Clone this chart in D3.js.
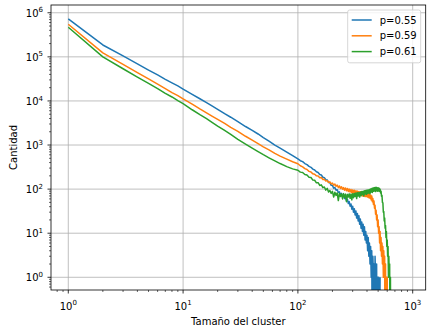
<!DOCTYPE html>
<html><head><meta charset="utf-8">
<script src="https://cdn.jsdelivr.net/npm/d3@7"></script>
<style>body{margin:0;background:#fff}svg{display:block}</style>
</head><body><svg id="c" width="428" height="325"></svg>
<script>
// ---------------- data ----------------
const seriesLabels = ["p=0.55", "p=0.59", "p=0.61"];
const seriesColors = ["#1f77b4", "#ff7f0e", "#2ca02c"];

const sizesHead = [1,2,3,4,5,6,7,8,9,10,12,14,16,18,20,23,26,30,35,40,45,50,56,63,70,80,90];
const countsHead055 = [724000,186000,105000,69200,50100,38900,30900,25700,21900,18600,14100,11200,9120,7590,6460,5130,4270,3390,2630,2140,1780,1480,1230,1000,851,692,575];
const countsHead059 = [550000,123000,67600,43700,31600,24000,19100,15500,13200,11200,8510,6610,5370,4470,3800,3090,2510,2040,1580,1290,1070,912,776,646,562,479,417];
const countsHead061 = [468000,100000,53700,34700,25100,19100,14800,12300,10200,8710,6310,4900,3980,3240,2690,2140,1740,1350,1050,851,708,603,513,437,380,324,288];

const sizesTail = [100,105,110,115,120,125,130,135,140,145,150,155,160,165,170,175,180,185,190,195,
  200,205,210,215,220,225,230,235,240,245,250,255,260,265,270,275,280,285,290,295,
  300,305,310,315,320,325,330,335,340,345,350,355,360,365,370,375,380,385,390,395,
  400,405,410,415,420,425,430,435,440,445,450,455,460,465,470,475,480,485,490,495,
  500,505,510,515,520,525,530,535,540,545,550,555,560,565,570,575,580,585,590,595,
  600,605,610,615,620,625,630,635,640,645];
const countsTail055 = [485,441,420,380,359,327,312,284,272,247,
  238,214,209,186,182,163,161,143,140,122,
  121,105,109,94,97,84,87,74,80,68,
  73,61,67,54,59,47,52,41,46,35,
  41,30,36,26,32,22,28,19,25,16,
  21,13,18,11,16,9,14,7,11,6,
  9,4,8,3,6,2,5,1,4,0,
  3,1,2,0,3,1,0,2,0,1,
  0,1,0,0,1];
const countsTail059 = [376,338,320,291,279,253,244,222,217,200,
  199,181,183,165,167,152,156,141,146,131,
  137,123,130,116,123,109,118,104,113,99,
  108,95,106,92,103,88,100,86,98,83,
  96,81,94,79,92,77,90,75,88,73,
  87,72,86,70,84,69,83,68,82,68,
  81,66,80,64,78,62,74,57,70,52,
  61,45,54,37,43,27,33,20,26,14,
  20,10,14,6,11,4,8,3,6,2,
  5,1,4,1,3,0,2,0,1,0,
  1,0,0];
const countsTail061 = [268,243,238,214,208,186,183,160,159,139,
  140,121,125,108,112,95,104,86,93,80,
  89,66,85,72,82,55,80,68,78,60,
  79,65,77,52,76,66,78,62,77,57,
  79,64,80,68,82,61,83,70,84,66,
  86,71,88,75,89,70,92,78,93,76,
  95,80,96,82,98,79,100,86,103,84,
  106,89,108,91,109,88,110,92,108,90,
  107,91,105,89,100,82,90,69,72,50,
  49,30,31,19,22,13,15,8,11,5,
  7,3,5,1,3,1,2,0,1,0];

const xTickValues = [1, 10, 100, 1000];
const xTickExponents = ["0", "1", "2", "3"];
const yTickValues = [1, 10, 100, 1000, 10000, 100000, 1000000];
const yTickExponents = ["0", "1", "2", "3", "4", "5", "6"];
const xDomain = [0.707, 1298];
const yDomain = [0.515, 1.5e6];
const xLabel = "Tamaño del cluster";
const yLabel = "Cantidad";

// ---------------- build ----------------
function build(head, tail) {
  const pts = head.map((c, i) => ({s: sizesHead[i], c}));
  tail.forEach((c, i) => pts.push({s: sizesTail[i], c}));
  return pts;
}
const series = [
  build(countsHead055, countsTail055),
  build(countsHead059, countsTail059),
  build(countsHead061, countsTail061)
];

const FONT = "DejaVu Sans, sans-serif";
const FS = 10;
const M = {left: 51, right: 425.7, top: 5, bottom: 290};
const svg = d3.select("#c");
const x = d3.scaleLog().domain(xDomain).range([M.left, M.right]);
const y = d3.scaleLog().domain(yDomain).range([M.bottom, M.top]);

svg.append("defs").append("clipPath").attr("id", "clip")
  .append("rect").attr("x", M.left).attr("y", M.top)
  .attr("width", M.right - M.left).attr("height", M.bottom - M.top);

// grid
const grid = svg.append("g").attr("stroke", "#b0b0b0").attr("stroke-width", 0.8);
xTickValues.forEach(v => grid.append("line")
  .attr("x1", x(v)).attr("x2", x(v)).attr("y1", M.top).attr("y2", M.bottom));
yTickValues.forEach(v => grid.append("line")
  .attr("y1", y(v)).attr("y2", y(v)).attr("x1", M.left).attr("x2", M.right));

// lines
const line = d3.line()
  .x(d => x(d.s))
  .y(d => d.c > 0 ? y(d.c) : M.bottom + 80);
const lg = svg.append("g").attr("clip-path", "url(#clip)");
series.forEach((pts, i) => {
  lg.append("path").datum(pts).attr("d", line)
    .attr("fill", "none").attr("stroke", seriesColors[i])
    .attr("stroke-width", 1.5).attr("stroke-linejoin", "round");
});

// axes ticks (major + minor)
const ax = svg.append("g").attr("stroke", "#000");
x.ticks().forEach(v => {
  const major = xTickValues.includes(v);
  ax.append("line").attr("x1", x(v)).attr("x2", x(v))
    .attr("y1", M.bottom).attr("y2", M.bottom + (major ? 3.5 : 2))
    .attr("stroke-width", major ? 0.8 : 0.6);
});
y.ticks().forEach(v => {
  const major = yTickValues.includes(v);
  ax.append("line").attr("y1", y(v)).attr("y2", y(v))
    .attr("x1", M.left).attr("x2", M.left - (major ? 3.5 : 2))
    .attr("stroke-width", major ? 0.8 : 0.6);
});

// spines
svg.append("rect").attr("x", M.left).attr("y", M.top)
  .attr("width", M.right - M.left).attr("height", M.bottom - M.top)
  .attr("fill", "none").attr("stroke", "#000").attr("stroke-width", 0.8);

// tick labels
const tl = svg.append("g").attr("font-family", FONT).attr("font-size", FS).attr("fill", "#000");
xTickValues.forEach((v, i) => {
  const t = tl.append("text").attr("x", x(v)).attr("y", M.bottom + 19.5).attr("text-anchor", "middle");
  t.append("tspan").text("10");
  t.append("tspan").attr("font-size", 7).attr("dy", -4.2).text(xTickExponents[i]);
});
yTickValues.forEach((v, i) => {
  const t = tl.append("text").attr("x", M.left - 8).attr("y", y(v) + 3.8).attr("text-anchor", "end");
  t.append("tspan").text("10");
  t.append("tspan").attr("font-size", 7).attr("dy", -4.2).text(yTickExponents[i]);
});

// axis labels
svg.append("text").attr("x", (M.left + M.right) / 2).attr("y", 324.5)
  .attr("text-anchor", "middle").attr("font-family", FONT).attr("font-size", FS).text(xLabel);
svg.append("text").attr("transform", `translate(16.8,${(M.top + M.bottom) / 2}) rotate(-90)`)
  .attr("text-anchor", "middle").attr("font-family", FONT).attr("font-size", FS).text(yLabel);

// legend
const pad = 4, rowH = 15.8, handleLen = 20, textPad = 8;
const lgG = svg.append("g").attr("font-family", FONT).attr("font-size", FS);
const tmp = lgG.append("text").text(seriesLabels[0]);
const tw = d3.max(seriesLabels.map(s => { tmp.text(s); return tmp.node().getComputedTextLength(); }));
tmp.remove();
const boxW = pad * 2 + handleLen + textPad + tw;
const boxH = 52.8;
const bx = M.right - 5 - boxW, by = M.top + 5;
lgG.append("rect").attr("x", bx).attr("y", by).attr("width", boxW).attr("height", boxH)
  .attr("rx", 2).attr("fill", "#fff").attr("fill-opacity", 0.8)
  .attr("stroke", "#cccccc").attr("stroke-width", 0.8);
seriesLabels.forEach((s, i) => {
  const cy = by + 10 + i * rowH;
  lgG.append("line").attr("x1", bx + pad).attr("x2", bx + pad + handleLen)
    .attr("y1", cy).attr("y2", cy).attr("stroke", seriesColors[i]).attr("stroke-width", 1.5);
  lgG.append("text").attr("x", bx + pad + handleLen + textPad).attr("y", cy + 3.6).text(s);
});
</script>
</body></html>
